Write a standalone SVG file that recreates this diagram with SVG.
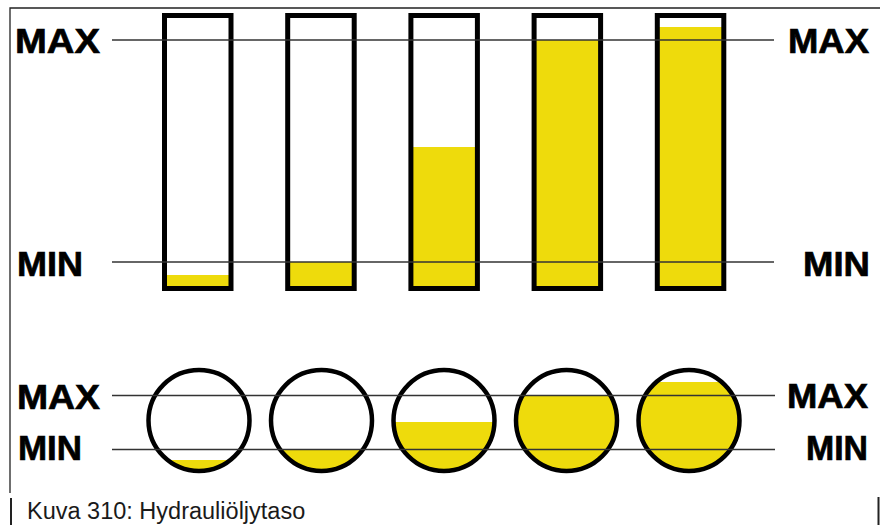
<svg xmlns="http://www.w3.org/2000/svg" width="880" height="525" viewBox="0 0 880 525">
<style>
.lbl{font-family:"Liberation Sans",Arial,sans-serif;font-weight:bold;font-size:35px;fill:#000;stroke:#000;stroke-width:0.7}
.cap{font-family:"Liberation Sans",Arial,sans-serif;font-size:23.5px;fill:#1a1a1a}
.tube{fill:none;stroke:#000;stroke-width:5}
.ring{fill:none;stroke:#000;stroke-width:4.5}
.oil{fill:#eedb0c}
.lvl{stroke:#333;stroke-width:1.6}
.frame{stroke:#222;fill:none}
</style>
<defs>
<clipPath id="cc" clipPathUnits="userSpaceOnUse"><circle cx="0" cy="0" r="50.5"/></clipPath>
</defs>
<rect width="880" height="525" fill="#fff"/>
<g id="frame">
<path class="frame" stroke-width="1.3" d="M10 493V8H880"/>
<path class="frame" stroke-width="2" d="M11 498V525M878.5 497V525"/>
</g>
<g id="tube1"><rect class="oil" x="166" y="275" width="64" height="12"/><rect class="tube" x="164.5" y="15.5" width="66.5" height="273"/></g>
<g id="tube2"><rect class="oil" x="289" y="262" width="64" height="25"/><rect class="tube" x="287.7" y="15.5" width="66.5" height="273"/></g>
<g id="tube3"><rect class="oil" x="412" y="147" width="64" height="140"/><rect class="tube" x="410.9" y="15.5" width="66.5" height="273"/></g>
<g id="tube4"><rect class="oil" x="535" y="40" width="64" height="247"/><rect class="tube" x="534.1" y="15.5" width="66.5" height="273"/></g>
<g id="tube5"><rect class="oil" x="658" y="27" width="64" height="260"/><rect class="tube" x="657.3" y="15.5" width="66.5" height="273"/></g>
<g id="circle1" transform="translate(199,420.5)"><rect class="oil" clip-path="url(#cc)" x="-52" y="39.5" width="104" height="14"/><circle class="ring" r="50.5"/></g>
<g id="circle2" transform="translate(321.5,420.5)"><rect class="oil" clip-path="url(#cc)" x="-52" y="28.5" width="104" height="25"/><circle class="ring" r="50.5"/></g>
<g id="circle3" transform="translate(444,420.5)"><rect class="oil" clip-path="url(#cc)" x="-52" y="1.5" width="104" height="52"/><circle class="ring" r="50.5"/></g>
<g id="circle4" transform="translate(566.5,420.5)"><rect class="oil" clip-path="url(#cc)" x="-52" y="-25" width="104" height="79"/><circle class="ring" r="50.5"/></g>
<g id="circle5" transform="translate(689,420.5)"><rect class="oil" clip-path="url(#cc)" x="-52" y="-38.5" width="104" height="92"/><circle class="ring" r="50.5"/></g>
<g id="connectors">
<line class="lvl" x1="112" y1="40" x2="774" y2="40"/>
<line class="lvl" x1="112" y1="262" x2="774" y2="262"/>
<line class="lvl" x1="112" y1="395.5" x2="775" y2="395.5"/>
<line class="lvl" x1="112" y1="449.5" x2="775" y2="449.5"/>
</g>
<g id="labels">
<text class="lbl" x="15" y="53" textLength="85" lengthAdjust="spacingAndGlyphs">MAX</text>
<text class="lbl" x="788" y="53" textLength="81" lengthAdjust="spacingAndGlyphs">MAX</text>
<text class="lbl" x="17" y="276" textLength="66" lengthAdjust="spacingAndGlyphs">MIN</text>
<text class="lbl" x="803" y="276" textLength="67" lengthAdjust="spacingAndGlyphs">MIN</text>
<text class="lbl" x="17" y="409" textLength="83" lengthAdjust="spacingAndGlyphs">MAX</text>
<text class="lbl" x="787" y="408" textLength="81" lengthAdjust="spacingAndGlyphs">MAX</text>
<text class="lbl" x="18" y="460" textLength="64" lengthAdjust="spacingAndGlyphs">MIN</text>
<text class="lbl" x="806" y="460" textLength="62" lengthAdjust="spacingAndGlyphs">MIN</text>
</g>
<text id="caption" class="cap" x="27" y="519">Kuva 310: Hydrauliöljytaso</text>
</svg>
